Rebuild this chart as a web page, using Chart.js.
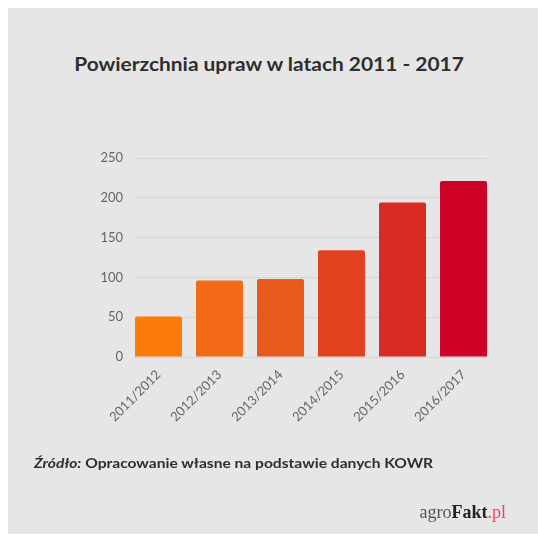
<!DOCTYPE html>
<html lang="pl">
<head>
<meta charset="utf-8">
<title>Powierzchnia upraw w latach 2011 - 2017</title>
<script src="https://cdn.jsdelivr.net/npm/chart.js@4"></script>
<style>
  html, body { margin: 0; padding: 0; background: #fff; }
  #panel {
    position: absolute; left: 8px; top: 8px; width: 530px; height: 526px;
    background: #e6e6e6;
  }
  #wrap { position: absolute; left: 0; top: 0; width: 538px; height: 535px; }
  /* tekst w oryginale jest lekko rozciągnięty w poziomie */
  .title {
    position: absolute; left: 0; width: 538px; top: 53px; text-align: center;
    font: 700 18.5px Lato, sans-serif; color: #2e2e2e;
    transform: scaleX(1.13); transform-origin: 269px 0;
  }
  .zrodlo {
    position: absolute; left: 34px; top: 455px;
    font: 700 13.5px Lato, sans-serif; color: #2e2e2e;
    transform: scaleX(1.155); transform-origin: 0 0; white-space: nowrap;
  }
  .zrodlo i { font-style: italic; }
  .logo {
    position: absolute; right: 32px; top: 502px;
    font: 18px "Liberation Serif", "DejaVu Serif", serif; color: #555;
  }
  .logo b { color: #222; }
  .logo span { color: #e8475a; }
</style>
</head>
<body>
<div id="panel"></div>
<div class="title">Powierzchnia upraw w latach 2011 - 2017</div>
<div id="wrap"><canvas id="wykres" width="538" height="535"></canvas></div>
<div class="zrodlo"><i>Źródło:</i> Opracowanie własne na podstawie danych KOWR</div>
<div class="logo">agro<b>Fakt</b><span>.pl</span></div>

<script>
// --- dane ---
const sezony = ['2011/2012', '2012/2013', '2013/2014', '2014/2015', '2015/2016', '2016/2017'];
const powierzchnia = [51, 96, 98, 134, 194, 221];
const kolory = ['#fc7b08', '#f26916', '#ea591c', '#e2411f', '#d92a24', '#cf0127'];
const osY = [0, 50, 100, 150, 200, 250];

// oś X liniowa, żeby pierwszy i ostatni słupek dotykały krawędzi siatki
const POLOWA = 0.385;

new Chart(document.getElementById('wykres'), {
  type: 'bar',
  data: {
    datasets: [{
      data: sezony.map((s, i) => ({ x: i, y: powierzchnia[i] })),
      backgroundColor: kolory,
      borderRadius: 2,
      borderSkipped: 'bottom',
      barPercentage: 0.77,
      categoryPercentage: 1
    }]
  },
  options: {
    responsive: false,
    animation: false,
    layout: { padding: { left: 90, right: 51, top: 158, bottom: 98 } },
    plugins: { legend: { display: false }, tooltip: { enabled: false } },
    scales: {
      x: {
        type: 'linear',
        offset: false,
        min: -POLOWA,
        max: sezony.length - 1 + POLOWA,
        grid: { display: false, offset: false },
        border: { display: false },
        afterBuildTicks: s => { s.ticks = sezony.map((_, i) => ({ value: i })); },
        afterFit: s => { s.height = 80; },
        ticks: {
          autoSkip: false,
          minRotation: 45,
          maxRotation: 45,
          padding: 2,
          color: '#666',
          font: { family: 'Lato', size: 13 },
          callback: v => sezony[v]
        }
      },
      y: {
        min: 0,
        max: osY[osY.length - 1],
        afterBuildTicks: s => { s.ticks = osY.map(v => ({ value: v })); },
        afterFit: s => { s.width = 45; },
        grid: { color: '#d5d5d5', lineWidth: 1, drawTicks: false },
        border: { display: false },
        ticks: {
          padding: 12,
          color: '#666',
          font: { family: 'Lato', size: 13 }
        }
      }
    }
  }
});
</script>
</body>
</html>
